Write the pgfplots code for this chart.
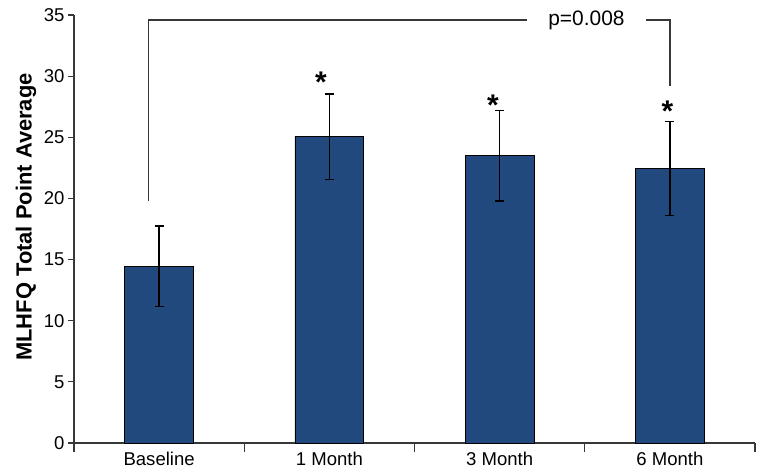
\documentclass[border=0pt]{standalone}
\usepackage{fontspec}
\setmainfont{Liberation Sans}
\usepackage{pgfplots}
\pgfplotsset{compat=1.18}
\usepackage{pgfplotstable}
\definecolor{barblue}{RGB}{33,73,125}
\definecolor{axgray}{RGB}{55,55,55}
\pgfplotstableread{
x y err
0 14.45 3.3
1 25.05 3.5
2 23.5 3.7
3 22.45 3.85
}\datatab
\begin{document}
\begin{tikzpicture}
\begin{axis}[
  at={(74bp,32bp)}, anchor=south west,
  scale only axis, width=681bp, height=428bp,
  xmin=-0.5, xmax=3.5, ymin=0, ymax=35,
  axis x line=bottom, axis y line=left,
  x axis line style={-, line width=1.3bp, draw=axgray},
  y axis line style={-, line width=1.3bp, draw=axgray},
  xtick={0,1,2,3},
  xticklabels={Baseline,1 Month,3 Month,6 Month},
  x tick label style={font=\fontsize{18.6}{20}\selectfont, yshift=-3bp},
  xtick style={draw=none},
  extra x ticks={-0.5,0.5,1.5,2.5,3.5},
  extra x tick labels={},
  extra x tick style={major tick length=9bp, tick align=outside, xtick style={draw=axgray, line width=1.1bp}},
  ytick={0,5,...,35},
  ytick align=outside, major tick length=6bp,
  ytick style={draw=axgray, line width=1.1bp},
  y tick label style={font=\fontsize{18.6}{20}\selectfont},
  /pgf/number format/assume math mode=true,
  ylabel={MLHFQ Total Point Average},
  ylabel style={at={(axis description cs:-0.0705,0.528)}, anchor=center, font=\bfseries\fontsize{22}{24}\selectfont},
  clip=false,
]
\addplot[ybar, bar width=0.405, fill=barblue, draw=black, line width=0.8bp,
  error bars/.cd, y dir=both, y explicit,
  error bar style={black, line width=1.3bp},
  error mark options={black, line width=1.3bp, mark size=4.5bp, rotate=90}]
  table[x=x, y=y, y error=err] {\datatab};
% significance bracket
\draw[axgray, line width=1.3bp] (axis cs:-0.061,19.8) -- (axis cs:-0.061,34.6) -- (axis cs:2.16,34.6);
\draw[axgray, line width=1.3bp] (axis cs:2.86,34.6) -- (axis cs:3.0,34.6) -- (axis cs:3.0,29.2);
\node[font=\fontsize{21}{23}\selectfont] at (axis cs:2.51,34.6) {p=0.008};
% asterisks
\node[font=\bfseries\fontsize{30}{30}\selectfont] at (axis cs:0.95,29.5) {*};
\node[font=\bfseries\fontsize{30}{30}\selectfont] at (axis cs:1.96,27.65) {*};
\node[font=\bfseries\fontsize{30}{30}\selectfont] at (axis cs:2.985,27.15) {*};
\end{axis}
\pgfresetboundingbox
\path[use as bounding box] (0,0) rectangle (762bp,475bp);
\end{tikzpicture}
\end{document}
